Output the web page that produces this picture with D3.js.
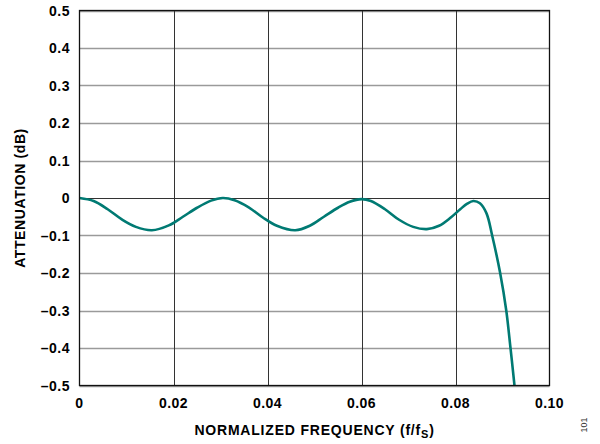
<!DOCTYPE html>
<html><head><meta charset="utf-8">
<script src="https://cdn.jsdelivr.net/npm/d3@7"></script>
<style>body{margin:0;background:#fff}svg{display:block}text{font-family:"Liberation Sans",Arial,sans-serif}</style>
</head><body>
<svg id="c" width="600" height="444"></svg>
<script>
const freq = [0,0.003,0.006,0.009,0.012,0.0154,0.019,0.022,0.025,0.028,0.0305,0.033,0.036,0.039,0.042,0.0459,0.049,0.052,0.055,0.0575,0.060,0.062,0.065,0.068,0.071,0.0739,0.0765,0.079,0.081,0.0825,0.0838,0.0852,0.0866,0.0878,0.0895,0.0908,0.0917,0.09255,0.0931];
const atten = [0,-0.008,-0.030,-0.057,-0.077,-0.086,-0.073,-0.050,-0.026,-0.007,0,-0.006,-0.025,-0.052,-0.074,-0.086,-0.074,-0.050,-0.026,-0.010,-0.003,-0.008,-0.030,-0.058,-0.077,-0.083,-0.074,-0.052,-0.030,-0.015,-0.008,-0.014,-0.041,-0.10,-0.20,-0.30,-0.40,-0.50,-0.57];
const xTicks = [0,0.02,0.04,0.06,0.08,0.10];
const xTickLabels = ["0","0.02","0.04","0.06","0.08","0.10"];
const yTicks = [0.5,0.4,0.3,0.2,0.1,0,-0.1,-0.2,-0.3,-0.4,-0.5];
const yTickLabels = ["0.5","0.4","0.3","0.2","0.1","0","\u20130.1","\u20130.2","\u20130.3","\u20130.4","\u20130.5"];

const svg = d3.select("#c");
const L=79.5,R=549.5,T=10.5,B=385.5;
const x = d3.scaleLinear().domain([0,0.10]).range([L,R]);
const y = d3.scaleLinear().domain([-0.5,0.5]).range([B,T]);

// horizontal grid
svg.append("g").selectAll("line").data(yTicks).join("line")
  .attr("x1",L).attr("x2",R).attr("y1",d=>Math.round(y(d))+0.5).attr("y2",d=>Math.round(y(d))+0.5)
  .attr("stroke",d=>d===0?"#333":"#9a9a9a").attr("stroke-width",d=>d===0?1.2:1.4);
// vertical grid
svg.append("g").selectAll("line").data(xTicks.slice(1,-1)).join("line")
  .attr("y1",T).attr("y2",B).attr("x1",d=>Math.round(x(d))+0.5).attr("x2",d=>Math.round(x(d))+0.5)
  .attr("stroke","#333").attr("stroke-width",1);

svg.append("clipPath").attr("id","clip").append("rect").attr("x",L).attr("y",T).attr("width",R-L).attr("height",B-T);
const data = freq.map((f,i)=>[f,atten[i]]);
svg.append("path").datum(data).attr("clip-path","url(#clip)")
  .attr("d",d3.line().x(d=>x(d[0])).y(d=>y(d[1])).curve(d3.curveCatmullRom.alpha(0.5)))
  .attr("fill","none").attr("stroke","#007a73").attr("stroke-width",2.6);

// frame
svg.append("rect").attr("x",L).attr("y",T).attr("width",R-L).attr("height",B-T)
  .attr("fill","none").attr("stroke","#111").attr("stroke-width",1.3);

// tick labels
svg.append("g").selectAll("text").data(yTicks).join("text")
  .attr("x",70).attr("y",d=>y(d)+5).attr("text-anchor","end")
  .attr("font-size",14).attr("font-weight","bold").attr("letter-spacing",0.5).attr("fill","#000")
  .text((d,i)=>yTickLabels[i]);
svg.append("g").selectAll("text").data(xTicks).join("text")
  .attr("x",d=>x(d)).attr("y",408).attr("text-anchor","middle")
  .attr("font-size",14).attr("font-weight","bold").attr("letter-spacing",0.5).attr("fill","#000")
  .text((d,i)=>xTickLabels[i]);

// axis titles
const xt = svg.append("text").attr("x",(L+R)/2).attr("y",435).attr("text-anchor","middle")
  .attr("font-size",14).attr("font-weight","bold").attr("letter-spacing",0.8);
xt.append("tspan").text("NORMALIZED FREQUENCY (f/f");
xt.append("tspan").attr("font-size",11).attr("dy",3).text("S");
xt.append("tspan").attr("dy",-3).text(")");

svg.append("text").attr("transform",`translate(25,${(T+B)/2}) rotate(-90)`).attr("text-anchor","middle")
  .attr("font-size",14).attr("font-weight","bold").attr("letter-spacing",0.6).text("ATTENUATION (dB)");

svg.append("text").attr("transform","translate(587,425) rotate(-90)").attr("text-anchor","middle")
  .attr("font-size",9).attr("fill","#333").text("101");
</script>
</body></html>
